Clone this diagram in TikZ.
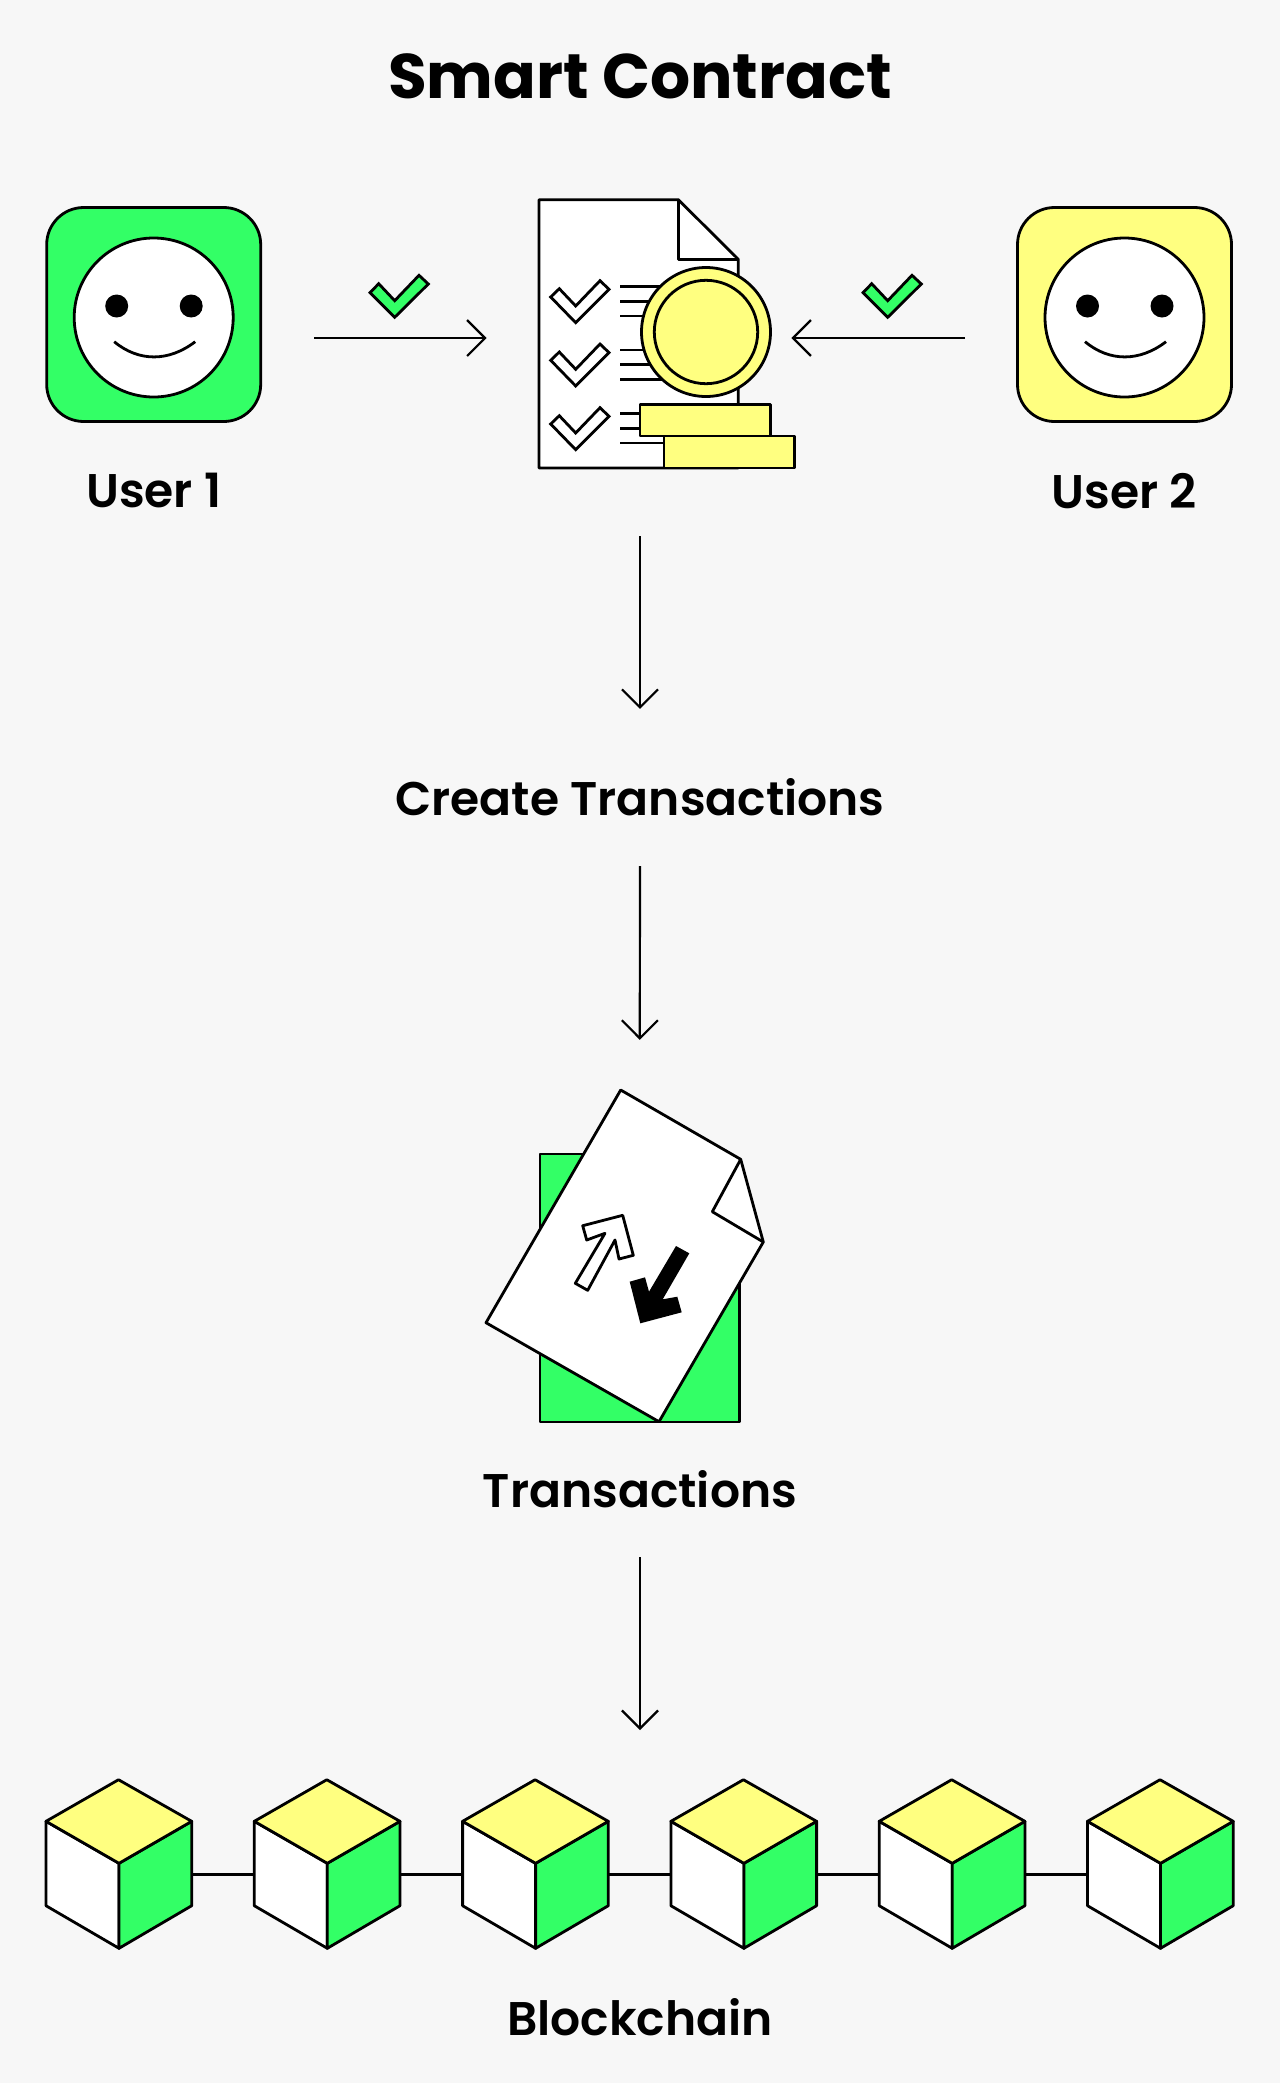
\documentclass[tikz,border=0pt]{standalone}
\usepackage{fontspec}
\setmainfont{Poppins}
\newfontfamily\semifont{Poppins SemiBold}
\usetikzlibrary{arrows.meta}
\definecolor{bgpage}{HTML}{F7F7F7}
\definecolor{chgreen}{HTML}{33FF66}
\definecolor{chyellow}{HTML}{FFFF80}
\begin{document}
\begin{tikzpicture}[x=0.5pt, y=-0.5pt, line width=1.4pt, line join=round,
	>={Straight Barb[length=9pt,width=18pt,line width=1.1pt]},
	flow/.style={->, line width=1.1pt},
	lbl/.style={inner sep=0pt, font=\fontsize{23.6}{28}\semifont},
	userbox/.style={draw, rounded corners=18.5pt, minimum size=107pt, inner sep=0pt},
	face/.style={draw, fill=white, circle, minimum size=79.5pt, inner sep=0pt},
	tick/.style={draw, fill=#1, line join=miter},
	tick/.default=white,
	coinbar/.style={draw, fill=chyellow}]
	\path[use as bounding box, fill=bgpage] (0,0) rectangle (1280,2083);
	\node[inner sep=0pt, font=\fontsize{31.5}{36}\selectfont\bfseries] (title) at (640,76) {Smart Contract};
	
	\foreach \n/\cx/\col in {1/153.7/chgreen, 2/1124.5/chyellow} {
		\node[userbox, fill=\col] (user\n) at (\cx,314.5) {};
		\node[face] (face\n) at (\cx,317.5) {};
		\fill (\cx-37,306) circle (11.5) (\cx+37.5,306) circle (11.5);
		\draw (\cx-39.5,341.7) .. controls (\cx-15,362) and (\cx+15,362) .. (\cx+41.5,341.7);
		\node[lbl] (name\n) at (\cx,491) {User \n};
	}
	
	\node[minimum width=101pt, minimum height=130pt, inner sep=0pt] (doc) at (640,338) {};
	\draw[fill=white] (539,199.7) -- (678.3,199.7) -- (738.3,259.3) -- (738.3,468) -- (539,468) -- cycle;
	\draw (678.3,199.7) -- (678.3,259.3) -- (738.3,259.3);
	\foreach \dy in {0,63.3,127} {
		\draw[tick, shift={(0,\dy)}] (550.7,297) -- (559.3,288.7) -- (575.7,306) -- (600,280.7) -- (609,289.3) -- (575.7,322.7) -- cycle;
		\draw[shift={(0,\dy)}] (620,286.7) -- (680,286.7) (620,301.3) -- (680,301.3) (620,316) -- (680,316);
	}
	\draw[fill=chyellow] (706,332) circle (64.5);
	\draw (706,332) circle (51.7);
	\draw[coinbar] (640,404.3) rectangle (770.7,436);
	\draw[coinbar] (664,436) rectangle (794.7,468);
	
	\draw[tick=chgreen] (370,292.7) -- (378.7,283.7) -- (394.7,300.7) -- (419,275.3) -- (428.3,284) -- (394.7,317.3) -- cycle;
	\draw[tick=chgreen] (863,292.7) -- (871.7,283.7) -- (887.7,300.7) -- (912,275.3) -- (921.3,284) -- (887.7,317.3) -- cycle;
	\draw[flow, shorten <=26pt, shorten >=25.5pt] (user1.east |- doc) -- (doc.west);
	\draw[flow, shorten <=25.5pt, shorten >=24.5pt] (user2.west |- doc) -- (doc.east);
	
	\node[lbl] (create) at (640,797) {Create Transactions};
	\draw[flow, shorten <=33.5pt, shorten >=34pt] (doc.south) -- (create.north);
	
	\node[minimum width=99.6pt, minimum height=134pt, inner sep=0pt] (stack) at (639.7,1288) {};
	\draw[flow, shorten <=24.5pt, shorten >=56.4pt] (create.south) -- (stack.north);
	\draw[fill=chgreen] (640,1154) -- (540,1154) -- (540,1422) -- (739.3,1422) -- (739.3,1200);
	\draw[fill=white] (620.7,1090) -- (740.7,1159.3) -- (763.3,1242) -- (659,1421.7) -- (486,1322.7) -- cycle;
	\draw (740.7,1159.3) -- (712.3,1211.7) -- (763.3,1242);
	\draw[fill=white] (582.7,1225.7) -- (622.7,1215.3) -- (633.3,1255.3) -- (619,1259) -- (615,1240) -- (587.7,1290.3) -- (575.3,1283.3) -- (605,1233.3) -- (586.7,1240) -- cycle;
	\fill (676,1246) -- (689.3,1253.3) -- (662.7,1299.3) -- (677.3,1296.7) -- (681.7,1312.3) -- (640.3,1323.3) -- (629.7,1281.7) -- (645,1277.3) -- (649,1291.7) -- cycle;
	\node[lbl] (trans) at (640,1489) {Transactions};
	
	\coordinate (chain) at (640,1777);
	\draw[flow, shorten <=24pt, shorten >=23.5pt] (trans.south) -- (chain);
	\foreach \i in {0,...,5} {
		\begin{scope}[xshift=\i*104.15pt]
			\coordinate (cl\i) at (46,1874.3);
			\coordinate (cr\i) at (191.7,1874.3);
			\draw[fill=white] (46,1821.3) -- (119,1863.3) -- (119,1948.3) -- (46,1905.7) -- cycle;
			\draw[fill=chgreen] (191.7,1821.3) -- (119,1863.3) -- (119,1948.3) -- (191.7,1905.7) -- cycle;
			\draw[fill=chyellow] (118.5,1779.7) -- (191.7,1821.3) -- (119,1863.3) -- (46,1821.3) -- cycle;
		\end{scope}
	}
	\foreach \i/\j in {0/1,1/2,2/3,3/4,4/5} \draw (cr\i) -- (cl\j);
	\node[lbl] (block) at (640,2017) {Blockchain};
\end{tikzpicture}
\end{document}
